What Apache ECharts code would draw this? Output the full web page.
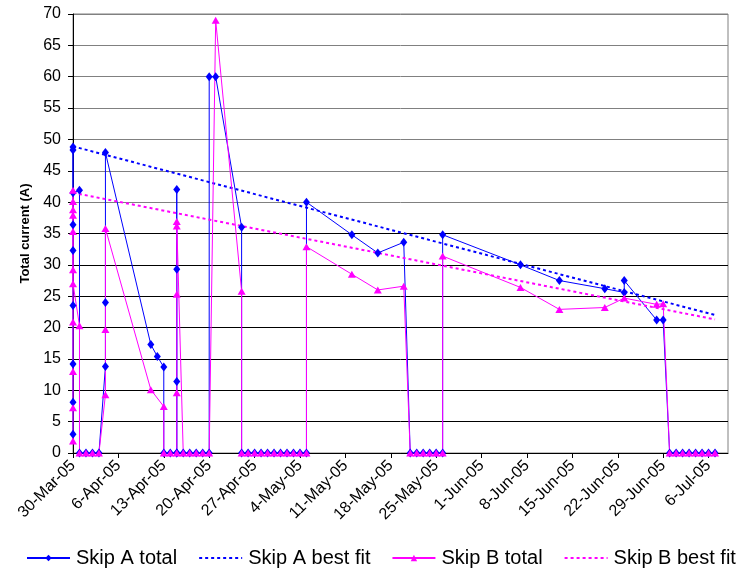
<!DOCTYPE html>
<html><head><meta charset="utf-8">
<script src="https://cdn.jsdelivr.net/npm/echarts@6/dist/echarts.min.js"></script>
<style>html,body{margin:0;padding:0;background:#fff}#c{width:736px;height:574px}</style>
</head><body><div id="c"></div>
<script>
// ---- data ----
const startDate = '2005-03-30';
const yTicks = [0,5,10,15,20,25,30,35,40,45,50,55,60,65,70];

const skipADates = [
 '2005-03-30','2005-03-30','2005-03-30','2005-03-30','2005-03-30','2005-03-30','2005-03-30','2005-03-30','2005-03-30',
 '2005-03-31','2005-03-31','2005-04-01','2005-04-02','2005-04-03',
 '2005-04-04','2005-04-04','2005-04-04',
 '2005-04-11','2005-04-12','2005-04-13','2005-04-13','2005-04-14',
 '2005-04-15','2005-04-15','2005-04-15','2005-04-15','2005-04-15',
 '2005-04-16','2005-04-17','2005-04-18','2005-04-19','2005-04-20','2005-04-20','2005-04-21',
 '2005-04-25','2005-04-25','2005-04-26','2005-04-27','2005-04-28','2005-04-29','2005-04-30',
 '2005-05-01','2005-05-02','2005-05-03','2005-05-04','2005-05-05','2005-05-05',
 '2005-05-12','2005-05-16','2005-05-20',
 '2005-05-21','2005-05-22','2005-05-23','2005-05-24','2005-05-25','2005-05-26','2005-05-26',
 '2005-06-07','2005-06-13','2005-06-20','2005-06-23','2005-06-23','2005-06-28','2005-06-29',
 '2005-06-30','2005-07-01','2005-07-02','2005-07-03','2005-07-04','2005-07-05','2005-07-06','2005-07-07'
];
const skipAValues = [
 3.0, 8.1, 14.2, 23.5, 32.3, 36.4, 48.3, 48.8, 41.5,
 41.9, 0, 0, 0, 0,
 13.8, 24.0, 47.9,
 17.3, 15.4, 13.7, 0, 0,
 0, 11.4, 29.3, 42.0, 0,
 0, 0, 0, 0, 0, 60.0, 60.0,
 36.0, 0, 0, 0, 0, 0, 0,
 0, 0, 0, 0, 0, 40.0,
 34.8, 31.9, 33.6,
 0, 0, 0, 0, 0, 0, 34.8,
 30.0, 27.5, 26.2, 25.6, 27.5, 21.2, 21.2,
 0, 0, 0, 0, 0, 0, 0, 0
];

const skipBDates = [
 '2005-03-30','2005-03-30','2005-03-30','2005-03-30','2005-03-30','2005-03-30','2005-03-30','2005-03-30','2005-03-30','2005-03-30','2005-03-30',
 '2005-03-31','2005-03-31','2005-04-01','2005-04-02','2005-04-03',
 '2005-04-04','2005-04-04','2005-04-04',
 '2005-04-11','2005-04-13','2005-04-13','2005-04-14',
 '2005-04-15','2005-04-15','2005-04-15','2005-04-15','2005-04-15',
 '2005-04-16','2005-04-17','2005-04-18','2005-04-19','2005-04-20','2005-04-21',
 '2005-04-25','2005-04-25','2005-04-26','2005-04-27','2005-04-28','2005-04-29','2005-04-30',
 '2005-05-01','2005-05-02','2005-05-03','2005-05-04','2005-05-05','2005-05-05',
 '2005-05-12','2005-05-16','2005-05-20',
 '2005-05-21','2005-05-22','2005-05-23','2005-05-24','2005-05-25','2005-05-26','2005-05-26',
 '2005-06-07','2005-06-13','2005-06-20','2005-06-23','2005-06-28','2005-06-29',
 '2005-06-30','2005-07-01','2005-07-02','2005-07-03','2005-07-04','2005-07-05','2005-07-06','2005-07-07'
];
const skipBValues = [
 1.9, 7.2, 13.0, 20.9, 29.2, 35.3, 37.9, 38.8, 40.1, 41.9, 27.0,
 20.3, 0, 0, 0, 0,
 9.3, 19.7, 35.8,
 10.1, 7.4, 0, 0,
 0, 9.6, 25.3, 36.2, 36.9,
 0, 0, 0, 0, 0, 69.0,
 25.8, 0, 0, 0, 0, 0, 0,
 0, 0, 0, 0, 0, 32.9,
 28.5, 26.0, 26.6,
 0, 0, 0, 0, 0, 0, 31.4,
 26.4, 22.9, 23.2, 24.7, 23.7, 23.8,
 0, 0, 0, 0, 0, 0, 0, 0
];

const fitADates = ['2005-03-30', '2005-07-07'];
const fitAValues = [48.9, 22.0];
const fitBDates = ['2005-03-30', '2005-07-07'];
const fitBValues = [41.5, 21.3];

const seriesNames = ['Skip A total', 'Skip A best fit', 'Skip B total', 'Skip B best fit'];
const monthNames = ['Jan','Feb','Mar','Apr','May','Jun','Jul','Aug','Sep','Oct','Nov','Dec'];

// ---- helpers ----
const DAY = 86400000;
const t0 = Date.parse(startDate + 'T00:00:00Z');
const dayOf = d => Math.round((Date.parse(d + 'T00:00:00Z') - t0) / DAY);
const pairs = (dates, vals) => dates.map((d, i) => [dayOf(d), vals[i]]);
const fmtDay = v => {
  if (v % 7 !== 0) return '';
  const dt = new Date(t0 + v * DAY);
  return dt.getUTCDate() + '-' + monthNames[dt.getUTCMonth()] + '-' + String(dt.getUTCFullYear()).slice(2);
};

const FONT = 'Arial, "Liberation Sans", sans-serif';
const BLUE = '#0000ff', MAG = '#ff00ff';
const gridColors = yTicks.map(v => v >= 40 ? '#808080' : '#000000');

const chart = echarts.init(document.getElementById('c'), null, {renderer: 'canvas'});
chart.setOption({
  animation: false,
  backgroundColor: '#fff',
  textStyle: {fontFamily: FONT},
  grid: {left: 73, right: 8, top: 14, bottom: 121, show: true, borderColor: '#808080', borderWidth: 1,
         backgroundColor: 'transparent', containLabel: false, outerBoundsMode: 'none'},
  xAxis: {
    type: 'value', min: 0, max: 101, interval: 7,
    axisLine: {show: true, onZero: false, lineStyle: {color: '#000', width: 1}},
    axisTick: {show: true, length: 5, lineStyle: {color: '#000'}},
    axisLabel: {rotate: 45, fontSize: 16, color: '#000', margin: 10, fontFamily: FONT, formatter: fmtDay, showMaxLabel: false},
    splitLine: {show: false}
  },
  yAxis: {
    type: 'value', min: yTicks[0], max: yTicks[yTicks.length - 1], interval: 5,
    name: 'Total current (A)', nameLocation: 'middle', nameGap: 40,
    nameTextStyle: {fontWeight: 'bold', fontSize: 13, color: '#000', fontFamily: FONT},
    axisLine: {show: true, lineStyle: {color: '#000', width: 1}},
    axisTick: {show: true, length: 5, lineStyle: {color: '#000'}},
    axisLabel: {fontSize: 16, color: '#000', margin: 12, fontFamily: FONT},
    splitLine: {show: true, lineStyle: {color: gridColors, width: 1}}
  },
  legend: {
    top: 548, left: 26, width: 720, padding: 0, itemWidth: 43, itemHeight: 8, itemGap: 21,
    textStyle: {fontSize: 20, color: '#000', fontFamily: FONT, padding: [0, 0, 0, 1]},
    data: [
      {name: seriesNames[0]},
      {name: seriesNames[1], itemStyle: {opacity: 0}},
      {name: seriesNames[2]},
      {name: seriesNames[3], itemStyle: {opacity: 0}}
    ]
  },
  series: [
    {name: seriesNames[0], type: 'line', data: pairs(skipADates, skipAValues),
     color: BLUE, symbol: 'diamond', symbolSize: [7, 9], showSymbol: true, showAllSymbol: true,
     lineStyle: {color: BLUE, width: 1}, itemStyle: {color: BLUE}},
    {name: seriesNames[1], type: 'line', data: pairs(fitADates, fitAValues),
     color: BLUE, symbol: 'none', lineStyle: {color: BLUE, width: 2, type: [3, 3]}},
    {name: seriesNames[2], type: 'line', data: pairs(skipBDates, skipBValues),
     color: MAG, symbol: 'triangle', symbolSize: [8, 7], showSymbol: true, showAllSymbol: true,
     lineStyle: {color: MAG, width: 1}, itemStyle: {color: MAG}},
    {name: seriesNames[3], type: 'line', data: pairs(fitBDates, fitBValues),
     color: MAG, symbol: 'none', lineStyle: {color: MAG, width: 2, type: [3, 3]}}
  ]
});
</script></body></html>
